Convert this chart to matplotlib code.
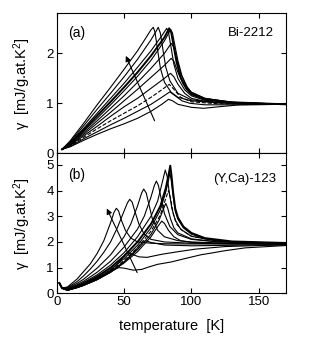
import matplotlib
matplotlib.use("Agg")
import matplotlib.pyplot as plt

plt.rcParams['font.family'] = ['Liberation Sans', 'DejaVu Sans']
plt.rcParams['mathtext.fontset'] = 'custom'
plt.rcParams['mathtext.rm'] = 'Liberation Sans'
plt.rcParams['mathtext.it'] = 'Liberation Sans:italic'

# ---- panel (a): Bi-2212, gamma vs T, one pair of lists per curve ----
bi1_T = [4, 10, 20, 30, 40, 50, 60, 66, 70, 71.7, 73, 75, 77, 80, 85, 90, 100, 120, 150, 170]
bi1_g = [0.08, 0.25, 0.6, 0.97, 1.32, 1.68, 2.05, 2.3, 2.47, 2.52, 2.42, 2.05, 1.7, 1.42, 1.22, 1.12, 1.05, 1.01, 0.99, 0.98]
bi2_T = [4, 10, 20, 30, 40, 50, 60, 70, 74, 75.4, 77, 79, 81, 84, 90, 100, 120, 170]
bi2_g = [0.08, 0.23, 0.55, 0.88, 1.2, 1.53, 1.88, 2.27, 2.45, 2.52, 2.4, 2.05, 1.72, 1.45, 1.2, 1.07, 1.01, 0.98]
bi3_T = [4, 10, 20, 30, 40, 50, 60, 70, 78, 81.7, 83, 85, 87, 90, 95, 100, 110, 130, 170]
bi3_g = [0.08, 0.21, 0.5, 0.8, 1.1, 1.4, 1.72, 2.05, 2.35, 2.5, 2.42, 2.1, 1.78, 1.5, 1.27, 1.15, 1.06, 1.01, 0.98]
bi4_T = [4, 10, 20, 30, 40, 50, 60, 70, 80, 83.5, 85, 87, 89, 92, 96, 100, 110, 130, 170]
bi4_g = [0.08, 0.2, 0.47, 0.75, 1.03, 1.32, 1.62, 1.95, 2.32, 2.5, 2.42, 2.12, 1.82, 1.52, 1.3, 1.18, 1.08, 1.02, 0.98]
bi5_T = [4, 10, 20, 30, 40, 50, 60, 70, 80, 84.6, 86, 88, 90, 93, 97, 100, 110, 130, 170]
bi5_g = [0.08, 0.19, 0.44, 0.7, 0.97, 1.25, 1.54, 1.86, 2.25, 2.48, 2.4, 2.12, 1.85, 1.55, 1.32, 1.22, 1.1, 1.02, 0.98]
bi6_T = [4, 10, 20, 30, 40, 50, 60, 70, 80, 85, 87, 89, 92, 96, 100, 110, 130, 170]
bi6_g = [0.08, 0.18, 0.41, 0.65, 0.9, 1.15, 1.42, 1.7, 2.0, 2.2, 2.12, 1.9, 1.6, 1.35, 1.22, 1.1, 1.02, 0.98]
bi7_T = [4, 10, 20, 30, 40, 50, 60, 70, 80, 85, 87, 90, 94, 100, 110, 130, 170]
bi7_g = [0.08, 0.17, 0.38, 0.6, 0.82, 1.05, 1.28, 1.52, 1.76, 1.9, 1.84, 1.62, 1.38, 1.2, 1.08, 1.02, 0.98]
bi8_T = [4, 10, 20, 30, 40, 50, 60, 70, 80, 84.5, 87, 90, 95, 100, 110, 130, 170]
bi8_g = [0.08, 0.16, 0.35, 0.54, 0.74, 0.93, 1.1, 1.3, 1.5, 1.6, 1.53, 1.38, 1.2, 1.1, 1.04, 1.0, 0.98]
bi9_T = [4, 10, 20, 30, 40, 50, 60, 70, 78, 83.5, 87, 92, 100, 120, 170]
bi9_g = [0.08, 0.15, 0.32, 0.49, 0.65, 0.8, 0.95, 1.12, 1.27, 1.38, 1.28, 1.12, 1.03, 0.99, 0.98]
bi10_T = [4, 10, 20, 30, 40, 50, 60, 70, 78, 84, 88, 93, 99, 110, 130, 170]
bi10_g = [0.08, 0.14, 0.29, 0.43, 0.57, 0.7, 0.84, 0.98, 1.12, 1.23, 1.15, 1.05, 1.0, 0.97, 0.97, 0.98]
bi11_T = [4, 10, 20, 30, 40, 50, 60, 70, 78, 83, 86, 90, 100, 109, 120, 136, 170]
bi11_g = [0.08, 0.13, 0.26, 0.38, 0.49, 0.59, 0.7, 0.84, 0.98, 1.08, 1.05, 0.98, 0.92, 0.9, 0.93, 0.97, 0.98]

# ---- panel (b): (Y,Ca)-123 ----
yc1_T = [2, 4, 8, 15, 20, 25, 30, 35, 40, 42.5, 44.3, 46, 48, 51, 55, 60, 70, 80, 100, 130, 170]
yc1_g = [0.4, 0.2, 0.25, 0.55, 0.85, 1.15, 1.55, 2.05, 2.75, 3.15, 3.31, 3.2, 2.85, 2.45, 2.15, 2.0, 1.95, 1.93, 1.92, 1.92, 1.93]
yc2_T = [2, 4, 8, 15, 20, 25, 30, 35, 40, 45, 50, 52.5, 54.2, 56, 58, 61, 65, 70, 80, 100, 130, 170]
yc2_g = [0.4, 0.2, 0.22, 0.45, 0.68, 0.95, 1.25, 1.6, 2.0, 2.55, 3.2, 3.52, 3.66, 3.55, 3.2, 2.7, 2.3, 2.1, 2.0, 1.95, 1.93, 1.93]
yc3_T = [2, 4, 8, 15, 20, 30, 40, 50, 55, 60, 63, 64.6, 66.5, 68.5, 71, 75, 80, 90, 100, 130, 170]
yc3_g = [0.4, 0.2, 0.2, 0.38, 0.55, 0.98, 1.5, 2.2, 2.7, 3.4, 3.9, 4.06, 3.9, 3.45, 2.9, 2.45, 2.2, 2.05, 2.0, 1.94, 1.93]
yc4_T = [2, 4, 8, 15, 20, 30, 40, 50, 60, 65, 70, 72.5, 74, 75.5, 77.5, 80, 84, 90, 100, 120, 170]
yc4_g = [0.4, 0.2, 0.18, 0.33, 0.47, 0.82, 1.25, 1.8, 2.5, 3.0, 3.75, 4.2, 4.37, 4.2, 3.7, 3.1, 2.6, 2.28, 2.1, 2.0, 1.94]
yc5_T = [2, 4, 8, 15, 20, 30, 40, 50, 60, 70, 75, 78.5, 80.6, 82, 83.5, 85.5, 88, 92, 100, 120, 170]
yc5_g = [0.4, 0.2, 0.16, 0.3, 0.42, 0.72, 1.1, 1.58, 2.2, 3.0, 3.6, 4.35, 4.8, 4.55, 3.95, 3.3, 2.85, 2.5, 2.22, 2.03, 1.94]
yc6_T = [2, 4, 8, 15, 20, 30, 40, 50, 60, 70, 77, 81, 83, 84.3, 85.2, 86.5, 88, 90, 94, 100, 110, 130, 170]
yc6_g = [0.4, 0.2, 0.14, 0.27, 0.38, 0.65, 1.0, 1.45, 2.0, 2.7, 3.4, 4.1, 4.6, 4.97, 4.6, 3.9, 3.3, 2.95, 2.6, 2.35, 2.15, 2.02, 1.96]
yc7_T = [2, 4, 8, 15, 20, 30, 40, 50, 60, 70, 77, 81, 83, 84, 85, 86.5, 88, 90, 94, 100, 110, 130, 170]
yc7_g = [0.4, 0.2, 0.13, 0.25, 0.35, 0.6, 0.93, 1.35, 1.87, 2.55, 3.25, 3.95, 4.4, 4.7, 4.4, 3.75, 3.2, 2.88, 2.55, 2.3, 2.12, 2.0, 1.95]
yc8_T = [2, 4, 8, 15, 20, 30, 40, 50, 60, 70, 77, 81, 83, 84.5, 86.5, 89, 93, 100, 120, 170]
yc8_g = [0.4, 0.2, 0.13, 0.24, 0.33, 0.57, 0.88, 1.28, 1.78, 2.42, 3.05, 3.7, 4.0, 3.7, 3.1, 2.7, 2.45, 2.22, 2.03, 1.94]
yc9_T = [2, 4, 8, 15, 20, 30, 40, 50, 60, 70, 76, 79, 81, 82.5, 84.5, 87, 90, 100, 120, 170]
yc9_g = [0.4, 0.2, 0.12, 0.23, 0.32, 0.55, 0.85, 1.23, 1.7, 2.3, 2.85, 3.25, 3.5, 3.3, 2.9, 2.55, 2.35, 2.12, 2.0, 1.93]
yc10_T = [2, 4, 8, 15, 20, 30, 40, 50, 60, 70, 75, 78, 80, 83, 87, 92, 100, 130, 170]
yc10_g = [0.4, 0.2, 0.12, 0.22, 0.31, 0.53, 0.82, 1.18, 1.62, 2.2, 2.6, 2.81, 2.72, 2.45, 2.2, 2.05, 1.98, 1.93, 1.92]
yc11_T = [2, 4, 8, 15, 20, 30, 40, 50, 58, 63, 66, 70, 80, 100, 130, 170]
yc11_g = [0.4, 0.2, 0.12, 0.22, 0.31, 0.53, 0.82, 1.2, 1.65, 1.95, 2.05, 1.98, 1.88, 1.85, 1.87, 1.9]
yc12_T = [2, 4, 8, 15, 20, 30, 40, 47, 51, 53, 56, 61, 67, 78, 90, 103, 125, 150, 170]
yc12_g = [0.4, 0.2, 0.12, 0.22, 0.31, 0.55, 0.88, 1.25, 1.52, 1.6, 1.52, 1.42, 1.4, 1.52, 1.62, 1.72, 1.82, 1.86, 1.88]
yc13_T = [2, 4, 8, 15, 20, 30, 40, 46, 50, 57, 63, 68, 75, 85, 95, 107, 114, 125, 140, 170]
yc13_g = [0.4, 0.2, 0.12, 0.23, 0.33, 0.58, 0.85, 1.0, 0.98, 0.9, 0.93, 1.02, 1.13, 1.22, 1.35, 1.5, 1.56, 1.66, 1.77, 1.86]

bi_curves = [(bi1_T, bi1_g, '-', 0.8), (bi2_T, bi2_g, '-', 0.8), (bi3_T, bi3_g, '-', 0.8),
             (bi4_T, bi4_g, '-', 1.4), (bi5_T, bi5_g, '-', 0.8), (bi6_T, bi6_g, '-', 0.8),
             (bi7_T, bi7_g, '-', 0.8), (bi8_T, bi8_g, '-', 0.8), (bi9_T, bi9_g, '--', 0.8),
             (bi10_T, bi10_g, '-', 0.8), (bi11_T, bi11_g, '-', 0.8)]
yc_curves = [(yc1_T, yc1_g, '-', 0.8), (yc2_T, yc2_g, '-', 0.8), (yc3_T, yc3_g, '-', 0.8),
             (yc4_T, yc4_g, '-', 0.8), (yc5_T, yc5_g, '-', 0.8), (yc6_T, yc6_g, '-', 1.4),
             (yc7_T, yc7_g, '-', 0.8), (yc8_T, yc8_g, '--', 0.8), (yc9_T, yc9_g, '-', 0.8),
             (yc10_T, yc10_g, '-', 0.8), (yc11_T, yc11_g, '-', 0.8), (yc12_T, yc12_g, '-', 0.8),
             (yc13_T, yc13_g, '-', 0.8)]

# arrows (tail, head) in data units
bi_arrow = [(73.5, 0.6), (50.5, 2.0)]
yc_arrow = [(60.6, 0.71), (36.3, 3.4)]

fig = plt.figure(figsize=(3.27, 3.54), dpi=100)
ax_a = fig.add_axes([0.1734, 0.5669, 0.7003, 0.3955])
ax_b = fig.add_axes([0.1734, 0.1714, 0.7003, 0.3955])

for T, g, ls, lw in bi_curves:
    ax_a.plot(T, g, color='black', ls=ls, lw=lw)
for T, g, ls, lw in yc_curves:
    ax_b.plot(T, g, color='black', ls=ls, lw=lw)

for ax, arr in [(ax_a, bi_arrow), (ax_b, yc_arrow)]:
    ax.annotate('', xy=arr[1], xytext=arr[0],
                arrowprops=dict(arrowstyle='-|>', color='black', lw=0.8, mutation_scale=8))

ax_a.set_xlim(0, 170)
ax_a.set_ylim(0, 2.8)
ax_a.set_yticks([0, 1, 2])
ax_b.set_xlim(0, 170)
ax_b.set_ylim(0, 5.45)
ax_b.set_yticks([0, 1, 2, 3, 4, 5])
for ax in (ax_a, ax_b):
    ax.set_xticks([0, 50, 100, 150])
    ax.tick_params(direction='in', top=True, right=True, length=3.5, width=0.8, labelsize=9.5, pad=2)
    for s in ax.spines.values():
        s.set_linewidth(0.8)
    ax.set_ylabel('γ  [mJ/g.at.K$^2$]', fontsize=10.5)
    ax.yaxis.set_label_coords(-0.105, 0.5)
ax_a.tick_params(labelbottom=False)

ax_a.text(0.05, 0.86, '(a)', transform=ax_a.transAxes, fontsize=10, va='center', ha='left')
ax_a.text(0.95, 0.86, 'Bi-2212', transform=ax_a.transAxes, fontsize=9.5, va='center', ha='right')
ax_b.text(0.05, 0.845, '(b)', transform=ax_b.transAxes, fontsize=10, va='center', ha='left')
ax_b.text(0.96, 0.816, '(Y,Ca)-123', transform=ax_b.transAxes, fontsize=9.5, va='center', ha='right')

ax_b.set_xlabel('temperature  [K]', fontsize=10.5, labelpad=8)

fig.savefig('out.png', dpi=100)
